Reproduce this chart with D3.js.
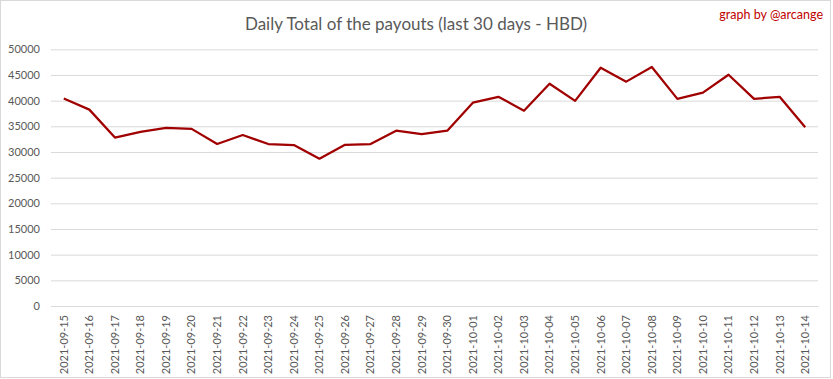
<!DOCTYPE html>
<html><head><meta charset="utf-8">
<script src="https://cdn.jsdelivr.net/npm/d3@7"></script>
<style>body{margin:0;background:#fff}svg{display:block}</style>
</head><body>
<svg id="c" width="833" height="379"></svg>
<script>
const dates = ["2021-09-15","2021-09-16","2021-09-17","2021-09-18","2021-09-19","2021-09-20","2021-09-21","2021-09-22","2021-09-23","2021-09-24","2021-09-25","2021-09-26","2021-09-27","2021-09-28","2021-09-29","2021-09-30","2021-10-01","2021-10-02","2021-10-03","2021-10-04","2021-10-05","2021-10-06","2021-10-07","2021-10-08","2021-10-09","2021-10-10","2021-10-11","2021-10-12","2021-10-13","2021-10-14"];
const payouts = [40400,38250,32800,33900,34700,34500,31550,33300,31550,31350,28700,31400,31550,34150,33500,34150,39600,40750,38050,43300,39950,46400,43700,46550,40350,41550,45050,40350,40750,34800];
const yTicks = [0,5000,10000,15000,20000,25000,30000,35000,40000,45000,50000];
const titleText = "Daily Total of the payouts (last 30 days - HBD)";
const creditText = "graph by @arcange";

const svg = d3.select("#c");
const font = "Lato, 'Open Sans', sans-serif";
svg.append("rect").attr("x",0.5).attr("y",0.5).attr("width",830).attr("height",377)
  .attr("fill","#fff").attr("stroke","#d9d9d9");

const x = d3.scaleBand().domain(dates).range([51,818]);
const y = d3.scaleLinear().domain([0,50000]).range([306,49.3]);

const gy = svg.append("g").attr("transform","translate(51,0)")
  .call(d3.axisLeft(y).tickValues(yTicks).tickSize(-767).tickPadding(11).tickFormat(d3.format("d")));
gy.select(".domain").remove();
gy.selectAll("line").attr("stroke","#d9d9d9");
gy.selectAll("text").attr("fill","#595959").style("font-family",font).style("font-size","11px");

const gx = svg.append("g").attr("transform","translate(0,306)")
  .call(d3.axisBottom(x).tickSize(0).tickPadding(0));
gx.select(".domain").attr("stroke","#d9d9d9");
gx.selectAll("text").attr("fill","#595959").style("font-family",font).style("font-size","11px")
  .attr("transform","rotate(-90)").attr("text-anchor","end").attr("x",-9).attr("y",0).attr("dy","0.35em");

const line = d3.line().x(d=>x(d.d)+x.bandwidth()/2).y(d=>y(d.v));
svg.append("path").datum(dates.map((d,i)=>({d,v:payouts[i]})))
  .attr("d",line).attr("fill","none").attr("stroke","#a00000").attr("stroke-width",2.25).attr("stroke-linejoin","round");

svg.append("text").attr("x",416).attr("y",30).attr("text-anchor","middle")
  .attr("fill","#595959").style("font-family",font).style("font-size","17px").text(titleText);
svg.append("text").attr("x",823).attr("y",19).attr("text-anchor","end")
  .attr("fill","#c00000").style("font-family",font).style("font-size","12.5px").text(creditText);
</script>
</body></html>
